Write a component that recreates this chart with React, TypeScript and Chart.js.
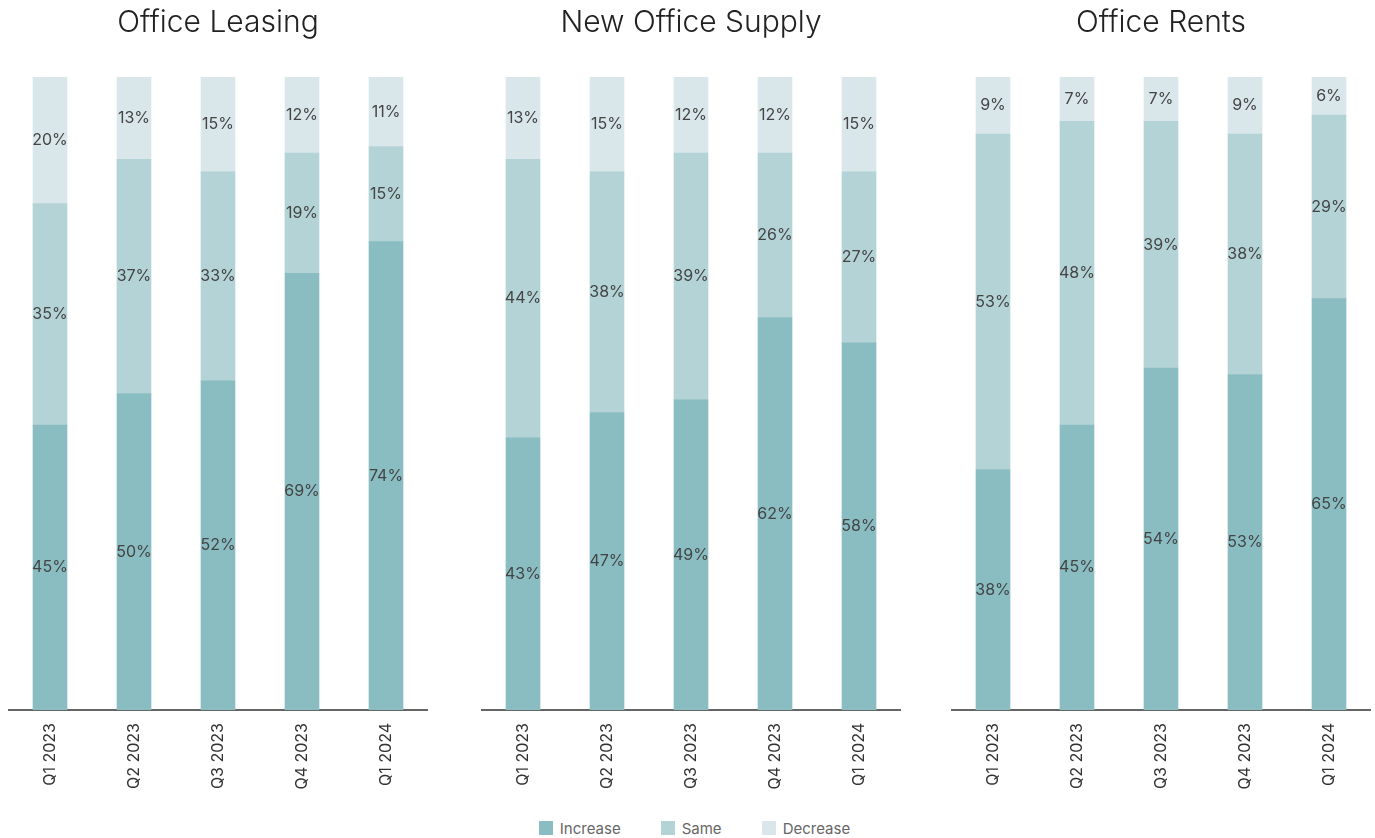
import React, { useEffect, useRef } from "react";
import { Chart, registerables } from "chart.js";

Chart.register(...registerables);

const categories = ["Q1 2023", "Q2 2023", "Q3 2023", "Q4 2023", "Q1 2024"];
const seriesNames = ["Increase", "Same", "Decrease"];
const seriesColors = ["#8abdc2", "#b4d3d6", "#d9e7eb"];

const panelTitles = ["Office Leasing", "New Office Supply", "Office Rents"];

const leasingIncrease = [45, 50, 52, 69, 74];
const leasingSame = [35, 37, 33, 19, 15];
const leasingDecrease = [20, 13, 15, 12, 11];

const supplyIncrease = [43, 47, 49, 62, 58];
const supplySame = [44, 38, 39, 26, 27];
const supplyDecrease = [13, 15, 12, 12, 15];

const rentsIncrease = [38, 45, 54, 53, 65];
const rentsSame = [53, 48, 39, 38, 29];
const rentsDecrease = [9, 7, 7, 9, 6];

const panelSeries = [
  [leasingIncrease, leasingSame, leasingDecrease],
  [supplyIncrease, supplySame, supplyDecrease],
  [rentsIncrease, rentsSame, rentsDecrease],
];

const panelLefts = [8, 481, 951];
const FONT = "Inter, 'Noto Sans', sans-serif";

const segmentLabels = {
  id: "segmentLabels",
  afterDatasetsDraw(chart: any) {
    const ctx = chart.ctx;
    ctx.save();
    ctx.font = `400 16px ${FONT}`;
    ctx.fillStyle = "#444444";
    ctx.textAlign = "center";
    ctx.textBaseline = "middle";
    chart.data.datasets.forEach((ds: any, di: number) => {
      const meta = chart.getDatasetMeta(di);
      meta.data.forEach((el: any, i: number) => {
        const v = ds.data[i];
        const y = (el.y + el.base) / 2;
        ctx.fillText(`${v}%`, el.x, y);
      });
    });
    ctx.restore();
  },
};

function Panel({ index }: { index: number }) {
  const ref = useRef<HTMLCanvasElement | null>(null);
  useEffect(() => {
    if (!ref.current) return;
    const chart = new Chart(ref.current, {
      type: "bar",
      data: {
        labels: categories,
        datasets: seriesNames.map((name, si) => ({
          label: name,
          data: panelSeries[index][si],
          backgroundColor: seriesColors[si],
          borderWidth: 0,
          barThickness: 34,
        })),
      },
      options: {
        responsive: false,
        animation: false,
        layout: { padding: 0 },
        plugins: {
          legend: { display: false },
          tooltip: { enabled: false },
          title: {
            display: true,
            text: panelTitles[index],
            color: "#222222",
            font: { family: FONT, size: 30, weight: "300" as any, lineHeight: 1.2 },
            padding: { top: 5, bottom: 36 },
          },
        },
        scales: {
          x: {
            stacked: true,
            grid: { display: false, drawTicks: false },
            border: { display: true, color: "#666666", width: 2 },
            ticks: {
              color: "#333333",
              font: { family: FONT, size: 16 },
              minRotation: 90,
              maxRotation: 90,
              padding: 13,
            },
            afterFit: (scale: any) => {
              scale.height = 90;
            },
          },
          y: {
            stacked: true,
            display: false,
            min: 0,
            max: 100,
          },
        },
      },
      plugins: [segmentLabels],
    });
    return () => chart.destroy();
  }, [index]);
  return (
    <div style={{ position: "absolute", left: panelLefts[index], top: 0, width: 420, height: 800 }}>
      <canvas ref={ref} width={420} height={800} />
    </div>
  );
}

export default function App() {
  return (
    <div style={{ position: "absolute", left: 0, top: 0, width: 1375, height: 838, background: "#fff", fontFamily: FONT }}>
      {panelTitles.map((_, i) => (
        <Panel key={i} index={i} />
      ))}
      <div
        style={{
          position: "absolute",
          left: 0,
          width: 1375,
          top: 818,
          height: 20,
          display: "flex",
          justifyContent: "center",
          alignItems: "center",
          gap: 40,
          paddingLeft: 14,
          boxSizing: "border-box",
        }}
      >
        {seriesNames.map((name, i) => (
          <div key={name} style={{ display: "flex", alignItems: "center" }}>
            <span style={{ display: "inline-block", width: 14, height: 14, background: seriesColors[i], marginRight: 7 }} />
            <span style={{ fontSize: 15, color: "#666666" }}>{name}</span>
          </div>
        ))}
      </div>
    </div>
  );
}
